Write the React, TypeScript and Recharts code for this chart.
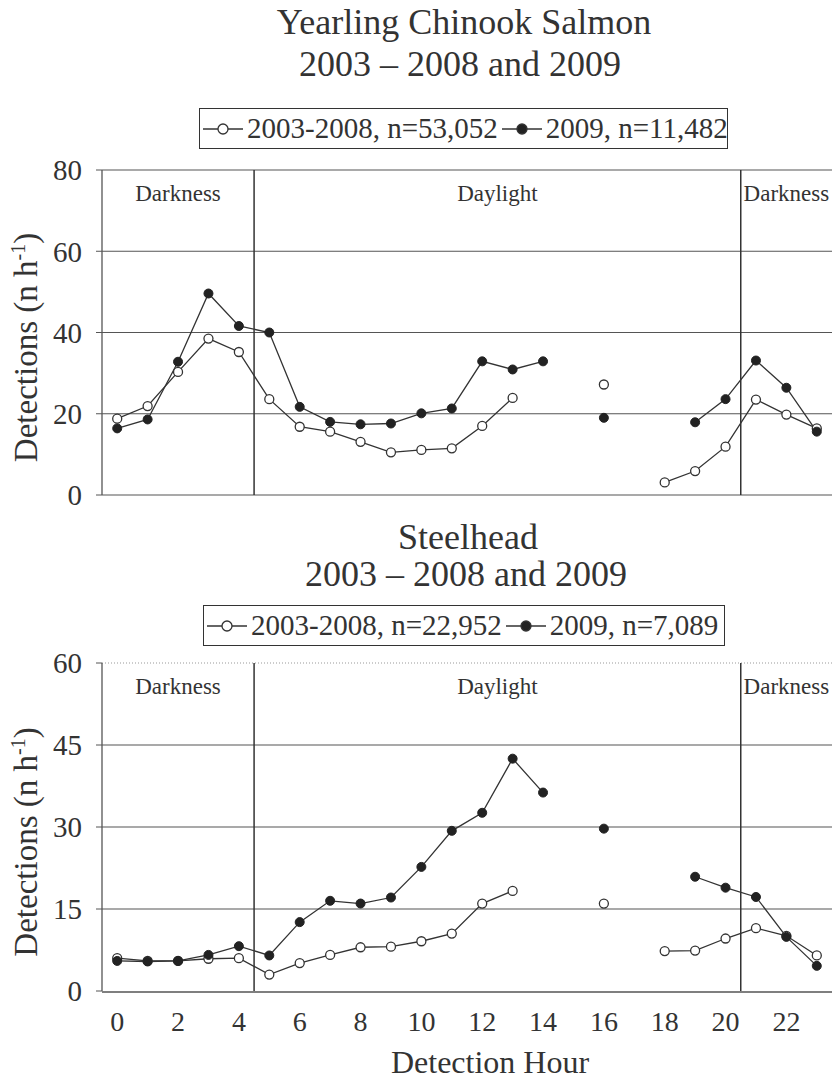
import { LineChart, Line, XAxis, YAxis, CartesianGrid, ReferenceLine, ReferenceArea, Label } from 'recharts'

const SERIF = '"Liberation Serif", "Times New Roman", serif'
const INK = '#333'
const GRID = '#555'

// detection hour of day
const hours = [0, 1, 2, 3, 4, 5, 6, 7, 8, 9, 10, 11, 12, 13, 14, 15, 16, 17, 18, 19, 20, 21, 22, 23]

// yearling Chinook, detections per hour (null = no estimate)
const chinookPrior = [18.8, 21.9, 30.3, 38.5, 35.2, 23.6, 16.8, 15.6, 13.1, 10.5, 11.1, 11.5, 17.0, 23.9, null, null, 27.2, null, 3.1, 5.9, 11.9, 23.5, 19.8, 16.4]
const chinook2009 = [16.4, 18.6, 32.8, 49.6, 41.6, 40.0, 21.7, 18.0, 17.4, 17.6, 20.1, 21.3, 32.9, 30.9, 32.9, null, 19.0, null, null, 17.9, 23.6, 33.1, 26.4, 15.6]

// steelhead, detections per hour
const steelheadPrior = [6.0, 5.5, 5.5, 5.9, 6.0, 3.0, 5.1, 6.6, 8.0, 8.1, 9.1, 10.5, 16.0, 18.3, null, null, 16.0, null, 7.3, 7.4, 9.6, 11.5, 10.1, 6.5]
const steelhead2009 = [5.5, 5.4, 5.5, 6.6, 8.2, 6.5, 12.6, 16.5, 16.0, 17.1, 22.7, 29.3, 32.6, 42.5, 36.3, null, 29.7, null, null, 20.9, 18.9, 17.2, 9.9, 4.6]

const chinookTicks = [0, 20, 40, 60, 80]
const steelheadTicks = [0, 15, 30, 45, 60]
const steelheadGrid = [15, 30, 45]
const hourLabels = [0, 2, 4, 6, 8, 10, 12, 14, 16, 18, 20, 22]
const hourMarks = [-0.5, 0.5, 1.5, 2.5, 3.5, 4.5, 5.5, 6.5, 7.5, 8.5, 9.5, 10.5, 11.5, 12.5, 13.5, 14.5, 15.5, 16.5, 17.5, 18.5, 19.5, 20.5, 21.5, 22.5, 23.5]
const hourDomain = [-0.5, 23.5]

// light periods and the boundaries between them
const periods = [
  { from: -0.5, to: 4.5, name: 'Darkness' },
  { from: 4.5, to: 20.5, name: 'Daylight' },
  { from: 20.5, to: 23.5, name: 'Darkness' },
]
const periodBreaks = [4.5, 20.5]

const chinookLegend = ['2003-2008, n=53,052', '2009, n=11,482']
const steelheadLegend = ['2003-2008, n=22,952', '2009, n=7,089']

const chinookRows = hours.map((h, i) => ({ hour: h, prior: chinookPrior[i], current: chinook2009[i] }))
const steelheadRows = hours.map((h, i) => ({ hour: h, prior: steelheadPrior[i], current: steelhead2009[i] }))

const openDot = { r: 4.5, fill: '#fff', stroke: INK, strokeWidth: 1.3 }
const filledDot = { r: 4.5, fill: '#222', stroke: '#222', strokeWidth: 1 }

function DetectionsLabel(props: any) {
  const { viewBox } = props
  const x = 37
  const y = viewBox.y + viewBox.height / 2 + 15
  return (
    <text x={x} y={y} transform={`rotate(-90 ${x} ${y})`} textAnchor="middle" fontSize={33} fill={INK} fontFamily={SERIF}>
      Detections (n h<tspan dy={-12} fontSize={20}>-1</tspan>
      <tspan dy={12}>)</tspan>
    </text>
  )
}

function CenteredText({ x, baseline, size, children }: { x: number; baseline: number; size: number; children: any }) {
  return (
    <div
      style={{
        position: 'absolute',
        left: x - 400,
        width: 800,
        top: baseline - size * 0.84,
        textAlign: 'center',
        fontSize: size,
        lineHeight: 1,
        color: INK,
        whiteSpace: 'nowrap',
      }}
    >
      {children}
    </div>
  )
}

function LegendBox({ top, left, width, labels }: { top: number; left: number; width: number; labels: string[] }) {
  return (
    <div
      style={{
        position: 'absolute',
        top,
        left,
        width,
        height: 41,
        boxSizing: 'border-box',
        border: `1.5px solid ${INK}`,
        display: 'flex',
        alignItems: 'center',
        paddingLeft: 3,
        fontSize: 29,
        color: INK,
        whiteSpace: 'nowrap',
      }}
    >
      {labels.map((label, i) => (
        <span key={label} style={{ display: 'flex', alignItems: 'center', marginLeft: i ? 4 : 0 }}>
          <svg width={40} height={14}>
            <line x1={0} y1={7} x2={40} y2={7} stroke={INK} strokeWidth={1.3} />
            <circle cx={20} cy={7} r={5} fill={i ? '#222' : '#fff'} stroke={INK} strokeWidth={1.3} />
          </svg>
          <span style={{ marginLeft: 4 }}>{label}</span>
        </span>
      ))}
    </div>
  )
}

const tickStyle = { fontSize: 29, fill: INK, fontFamily: SERIF }
const periodLabel = (name: string) => ({ value: name, position: 'insideTop' as const, offset: 15, fontSize: 23, fill: INK, fontFamily: SERIF })

export default function App() {
  return (
    <div
      style={{
        position: 'absolute',
        left: 0,
        top: 0,
        width: 832,
        height: 1080,
        overflow: 'hidden',
        background: '#fff',
        fontFamily: SERIF,
      }}
    >
      <CenteredText x={464} baseline={34} size={36}>Yearling Chinook Salmon</CenteredText>
      <CenteredText x={460} baseline={76} size={36}>2003 – 2008 and 2009</CenteredText>
      <LegendBox top={108} left={199} width={529} labels={chinookLegend} />

      <div style={{ position: 'absolute', left: 0, top: 140 }}>
        <LineChart width={832} height={380} data={chinookRows} margin={{ top: 30, right: 0, bottom: 25, left: 0 }}>
          <CartesianGrid vertical={false} stroke={GRID} strokeWidth={1.2} />
          <XAxis type="number" dataKey="hour" domain={hourDomain} hide />
          <YAxis
            width={102}
            domain={[0, 80]}
            ticks={chinookTicks}
            interval={0}
            tick={tickStyle}
            tickSize={6}
            tickMargin={14}
            axisLine={{ stroke: GRID, strokeWidth: 1.3 }}
            tickLine={{ stroke: GRID }}
          >
            <Label content={<DetectionsLabel />} />
          </YAxis>
          {periods.map((p, i) => (
            <ReferenceArea key={i} x1={p.from} x2={p.to} fillOpacity={0} strokeOpacity={0} label={periodLabel(p.name)} />
          ))}
          {periodBreaks.map((x) => (
            <ReferenceLine key={x} x={x} stroke={INK} strokeWidth={1.5} />
          ))}
          <Line dataKey="prior" stroke={INK} strokeWidth={1.3} dot={openDot} activeDot={false} isAnimationActive={false} />
          <Line dataKey="current" stroke={INK} strokeWidth={1.3} dot={filledDot} activeDot={false} isAnimationActive={false} />
        </LineChart>
      </div>

      <CenteredText x={468} baseline={549} size={36}>Steelhead</CenteredText>
      <CenteredText x={466} baseline={586} size={36}>2003 – 2008 and 2009</CenteredText>
      <LegendBox top={605} left={203} width={522} labels={steelheadLegend} />

      <div style={{ position: 'absolute', left: 0, top: 633 }}>
        <LineChart width={832} height={447} data={steelheadRows} margin={{ top: 30, right: 0, bottom: 87, left: 0 }}>
          <XAxis
            xAxisId="marks"
            type="number"
            dataKey="hour"
            domain={hourDomain}
            ticks={hourMarks}
            interval={0}
            height={1}
            tick={false}
            tickSize={7}
            axisLine={{ stroke: GRID, strokeWidth: 1.3 }}
            tickLine={{ stroke: GRID }}
          />
          <XAxis
            xAxisId="hours"
            type="number"
            dataKey="hour"
            domain={hourDomain}
            ticks={hourLabels}
            interval={0}
            height={1}
            tick={{ ...tickStyle, fontSize: 28 }}
            tickSize={6}
            tickMargin={14}
            axisLine={false}
            tickLine={false}
          />
          <YAxis
            width={102}
            domain={[0, 60]}
            ticks={steelheadTicks}
            interval={0}
            tick={tickStyle}
            tickSize={6}
            tickMargin={14}
            axisLine={{ stroke: GRID, strokeWidth: 1.3 }}
            tickLine={{ stroke: GRID }}
          >
            <Label content={<DetectionsLabel />} />
          </YAxis>
          {steelheadGrid.map((y) => (
            <ReferenceLine key={y} xAxisId="hours" y={y} stroke={GRID} strokeWidth={1.2} />
          ))}
          <ReferenceLine xAxisId="hours" y={60} stroke="#999" strokeWidth={1} strokeDasharray="1 2" />
          {periods.map((p, i) => (
            <ReferenceArea key={i} xAxisId="hours" x1={p.from} x2={p.to} fillOpacity={0} strokeOpacity={0} label={periodLabel(p.name)} />
          ))}
          {periodBreaks.map((x) => (
            <ReferenceLine key={x} xAxisId="hours" x={x} stroke={INK} strokeWidth={1.5} />
          ))}
          <Line xAxisId="hours" dataKey="prior" stroke={INK} strokeWidth={1.3} dot={openDot} activeDot={false} isAnimationActive={false} />
          <Line xAxisId="hours" dataKey="current" stroke={INK} strokeWidth={1.3} dot={filledDot} activeDot={false} isAnimationActive={false} />
        </LineChart>
      </div>

      <CenteredText x={490} baseline={1073} size={32}>Detection Hour</CenteredText>
    </div>
  )
}
